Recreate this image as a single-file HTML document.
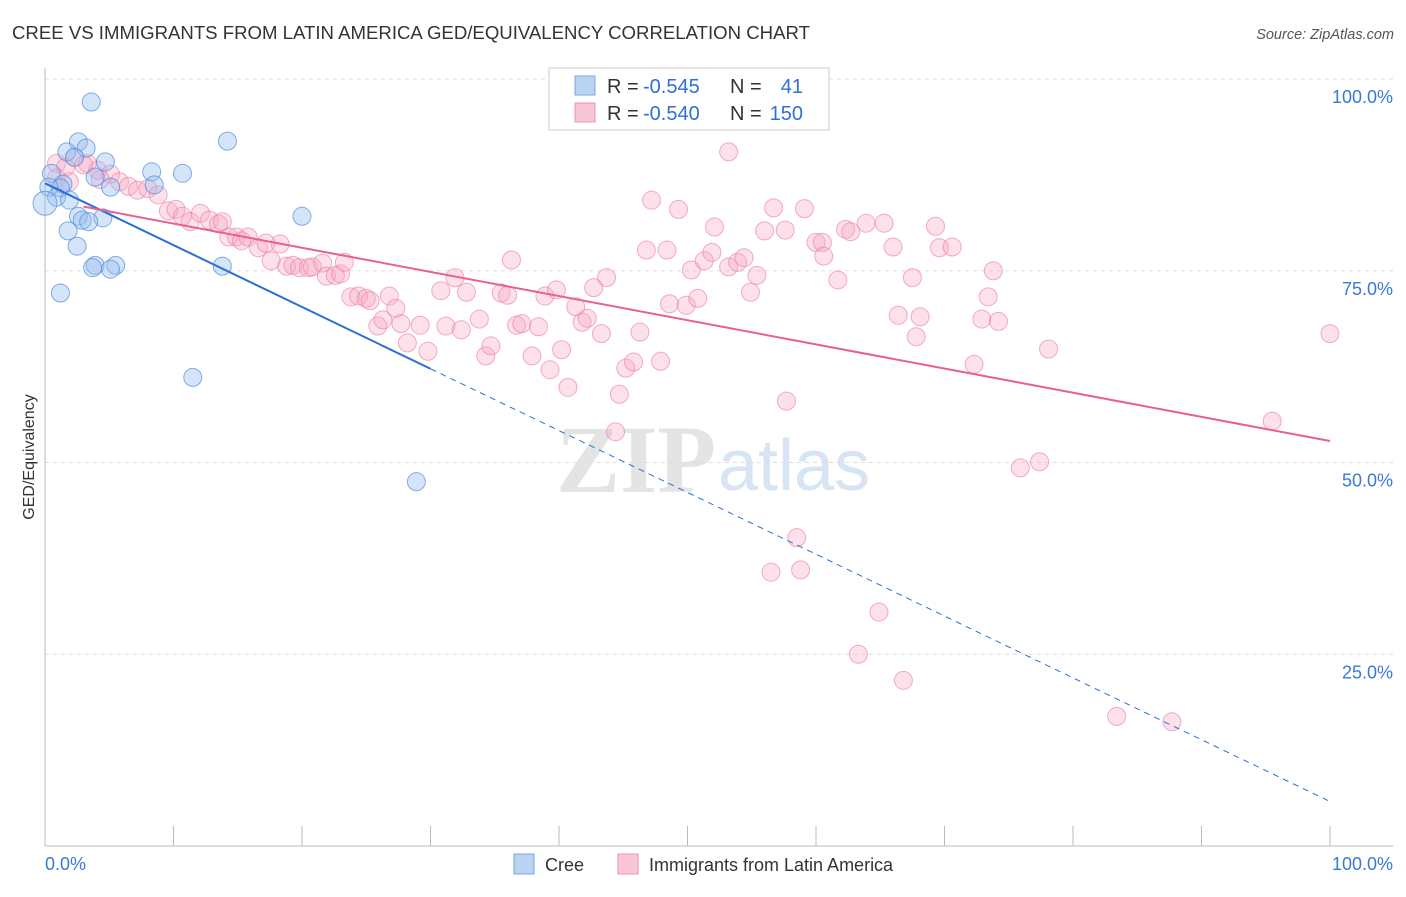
<!DOCTYPE html>
<html><head><meta charset="utf-8"><style>
body{margin:0;background:#fff;font-family:"Liberation Sans",sans-serif}
</style></head><body>
<svg id="c" width="1406" height="892" xmlns="http://www.w3.org/2000/svg">
<text x="12" y="39" font-size="18.6" fill="#333">CREE VS IMMIGRANTS FROM LATIN AMERICA GED/EQUIVALENCY CORRELATION CHART</text>
<text x="1394" y="39" font-size="14.5" fill="#555" font-style="italic" text-anchor="end">Source: ZipAtlas.com</text>
<text x="0" y="0" transform="translate(34,457) rotate(-90)" font-size="16" fill="#333" text-anchor="middle">GED/Equivalency</text>
<text x="716" y="492" font-size="96" font-family="Liberation Serif,serif" fill="#e4e4e4" text-anchor="end" font-weight="bold">ZIP</text>
<text x="718" y="490" font-size="72" fill="#d6e4f3">atlas</text>
<g id="grid"></g><g id="pts"></g><g id="lines"></g>
<g>
<rect x="549" y="68" width="280" height="62" fill="#fff" stroke="#ccc"/>
<rect x="575" y="76" width="20" height="19" fill="#b9d3f3" stroke="#7aa7e0"/>
<rect x="575" y="103" width="20" height="19" fill="#f9c6d6" stroke="#ec93b1"/>
<text x="607" y="93" font-size="20" fill="#333">R =</text>
<text x="643" y="93" font-size="20" fill="#2f6fd6">-0.545</text>
<text x="730" y="93" font-size="20" fill="#333">N =</text>
<text x="803" y="93" font-size="20" fill="#2f6fd6" text-anchor="end">41</text>
<text x="607" y="120" font-size="20" fill="#333">R =</text>
<text x="643" y="120" font-size="20" fill="#2f6fd6">-0.540</text>
<text x="730" y="120" font-size="20" fill="#333">N =</text>
<text x="803" y="120" font-size="20" fill="#2f6fd6" text-anchor="end">150</text>
</g>
<g>
<rect x="514" y="854" width="20" height="20" fill="#b9d3f3" stroke="#7aa7e0"/>
<text x="545" y="871" font-size="18" fill="#333">Cree</text>
<rect x="618" y="854" width="20" height="20" fill="#f9c6d6" stroke="#ec93b1"/>
<text x="649" y="871" font-size="18" fill="#333">Immigrants from Latin America</text>
</g>
</svg>
<script>
const yTicks=[100,75,50,25];
const yTickLabels=["100.0%","75.0%","50.0%","25.0%"];
const xTicks=[0,10,20,30,40,50,60,70,80,90,100];
const creeX=[3.6,14.2,2.6,3.2,1.7,2.3,4.7,8.3,10.7,3.9,0.5,1.4,1.2,8.5,5.1,0.3,0.9,1.9,0,20.0,2.6,4.5,2.9,3.4,1.8,2.5,3.9,5.5,3.7,5.1,13.8,1.2,11.5,28.9];
const creeY=[97.0,91.9,91.8,91.0,90.5,89.8,89.2,87.9,87.7,87.2,87.7,86.3,85.8,86.2,85.9,85.9,84.6,84.2,83.8,82.1,82.1,81.9,81.6,81.4,80.2,78.2,75.7,75.7,75.4,75.2,75.6,72.1,61.1,47.5];
const latX=[0.9,1.6,2.3,3.3,4.1,5.1,5.8,0.9,1.9,3.0,4.3,6.5,7.2,8.0,8.8,9.6,10.2,10.7,11.3,12.1,12.8,13.5,13.8,14.3,14.9,15.3,15.8,16.6,17.2,17.6,18.3,18.8,19.3,19.8,20.5,20.8,21.6,21.9,22.6,23.0,23.3,23.8,24.4,25.0,25.3,25.9,26.3,26.8,27.3,27.7,28.2,29.2,29.8,30.8,31.2,31.9,32.4,32.8,33.8,34.3,34.7,35.5,36.0,36.3,36.7,37.1,37.9,38.4,38.9,39.3,39.8,40.2,40.7,41.3,41.8,42.2,42.7,43.3,43.7,44.7,44.4,45.2,45.8,46.3,47.2,47.9,46.8,48.4,49.3,48.6,49.9,50.3,50.8,51.3,51.9,52.1,53.2,53.2,53.9,54.4,54.9,55.4,56.0,56.7,57.6,57.7,58.5,58.8,56.5,59.1,60.0,60.5,60.6,61.7,62.3,62.7,63.3,63.9,64.9,65.3,66.0,66.4,66.8,67.5,67.8,68.1,69.3,69.6,70.6,72.3,72.9,73.4,73.8,74.2,75.9,77.4,78.1,83.4,87.7,95.5,100];
const latY=[89.0,88.5,89.8,89.0,88.1,87.6,86.6,87.1,86.6,88.8,86.9,86.0,85.5,85.7,84.9,82.8,83.0,82.1,81.4,82.5,81.6,81.1,81.4,79.4,79.4,78.9,79.4,78.0,78.6,76.3,78.5,75.6,75.7,75.4,75.4,75.5,76.0,74.3,74.4,74.6,76.1,71.6,71.7,71.4,71.1,67.8,68.6,71.7,70.1,68.1,65.6,67.9,64.5,72.4,67.8,74.1,67.3,72.2,68.7,63.9,65.2,72.1,71.8,76.4,67.9,68.1,63.9,67.7,71.7,62.1,72.5,64.7,59.8,70.3,68.3,68.8,72.8,66.8,74.1,58.9,54.0,62.3,63.1,67.0,84.2,63.2,77.7,77.7,83.0,70.7,70.5,75.1,71.4,76.3,77.4,80.7,90.5,75.5,76.1,76.7,72.2,74.4,80.2,83.2,80.3,58.0,40.2,36.0,35.7,83.1,78.7,78.7,76.9,73.8,80.4,80.1,25.0,81.2,30.5,81.2,78.1,69.2,21.6,74.1,66.4,69.0,80.8,78.0,78.1,62.8,68.7,71.6,75.0,68.4,49.3,50.1,64.8,16.9,16.2,55.4,66.8];
const creeTrend=[86.4,-0.806];
const latTrend=[84.3,-0.315];
const X=v=>45+v*12.85, Y=v=>846-v*7.67;
const NS="http://www.w3.org/2000/svg";
function mk(t,a,p){const e=document.createElementNS(NS,t);for(const k in a)e.setAttribute(k,a[k]);p.appendChild(e);return e;}
const g=document.getElementById('grid');
yTicks.forEach((t,i)=>{
 const l=mk('line',{x1:45,x2:1393,y1:Y(t),y2:Y(t),stroke:'#ddd','stroke-dasharray':'4,4'},g);
 
 
 const tx=mk('text',{x:1393,y:Y(t)+24,'font-size':18,fill:'#3b78d8','text-anchor':'end'},g);
 tx.textContent=yTickLabels[i];
 
 
});
const ax=mk('line',{x1:45,x2:1393,y1:846,y2:846,stroke:'#bbb'},g);


const ay=mk('line',{x1:45,x2:45,y1:68,y2:846,stroke:'#bbb'},g);


xTicks.forEach(t=>{
 const l=mk('line',{x1:X(t),x2:X(t),y1:826,y2:846,stroke:'#bbb'},g);
 
 
});
[[0,"0.0%",'start',45],[100,"100.0%",'end',1393]].forEach(d=>{
 const tx=mk('text',{x:d[3],y:870,'font-size':18,fill:'#3b78d8','text-anchor':d[2]},g);
 tx.textContent=d[1];
 
 
});
const P=document.getElementById('pts');
latX.forEach((x,i)=>{
 const c=mk('circle',{cx:X(x),cy:Y(latY[i]),r:9,fill:'rgba(246,170,196,0.35)',stroke:'rgba(236,120,160,0.6)'},P);
 
 
});
creeX.forEach((x,i)=>{
 const c=mk('circle',{cx:X(x),cy:Y(creeY[i]),r:(x===0?12:9),fill:'rgba(150,190,240,0.4)',stroke:'rgba(80,140,220,0.7)'},P);
 
 
});
const L=document.getElementById('lines');
const cs=mk('line',{x1:X(0),y1:Y(creeTrend[0]),x2:X(30),y2:Y(creeTrend[0]+creeTrend[1]*30),stroke:'#2a6fd6','stroke-width':2},L);


const cd=mk('line',{x1:X(30),y1:Y(creeTrend[0]+creeTrend[1]*30),x2:X(100),y2:Y(creeTrend[0]+creeTrend[1]*100),stroke:'#2a6fd6','stroke-width':1,'stroke-dasharray':'6,5'},L);


const pl=mk('line',{x1:X(3),y1:Y(latTrend[0]+latTrend[1]*3),x2:X(100),y2:Y(latTrend[0]+latTrend[1]*100),stroke:'#e8608f','stroke-width':2},L);


</script>
</body></html>
